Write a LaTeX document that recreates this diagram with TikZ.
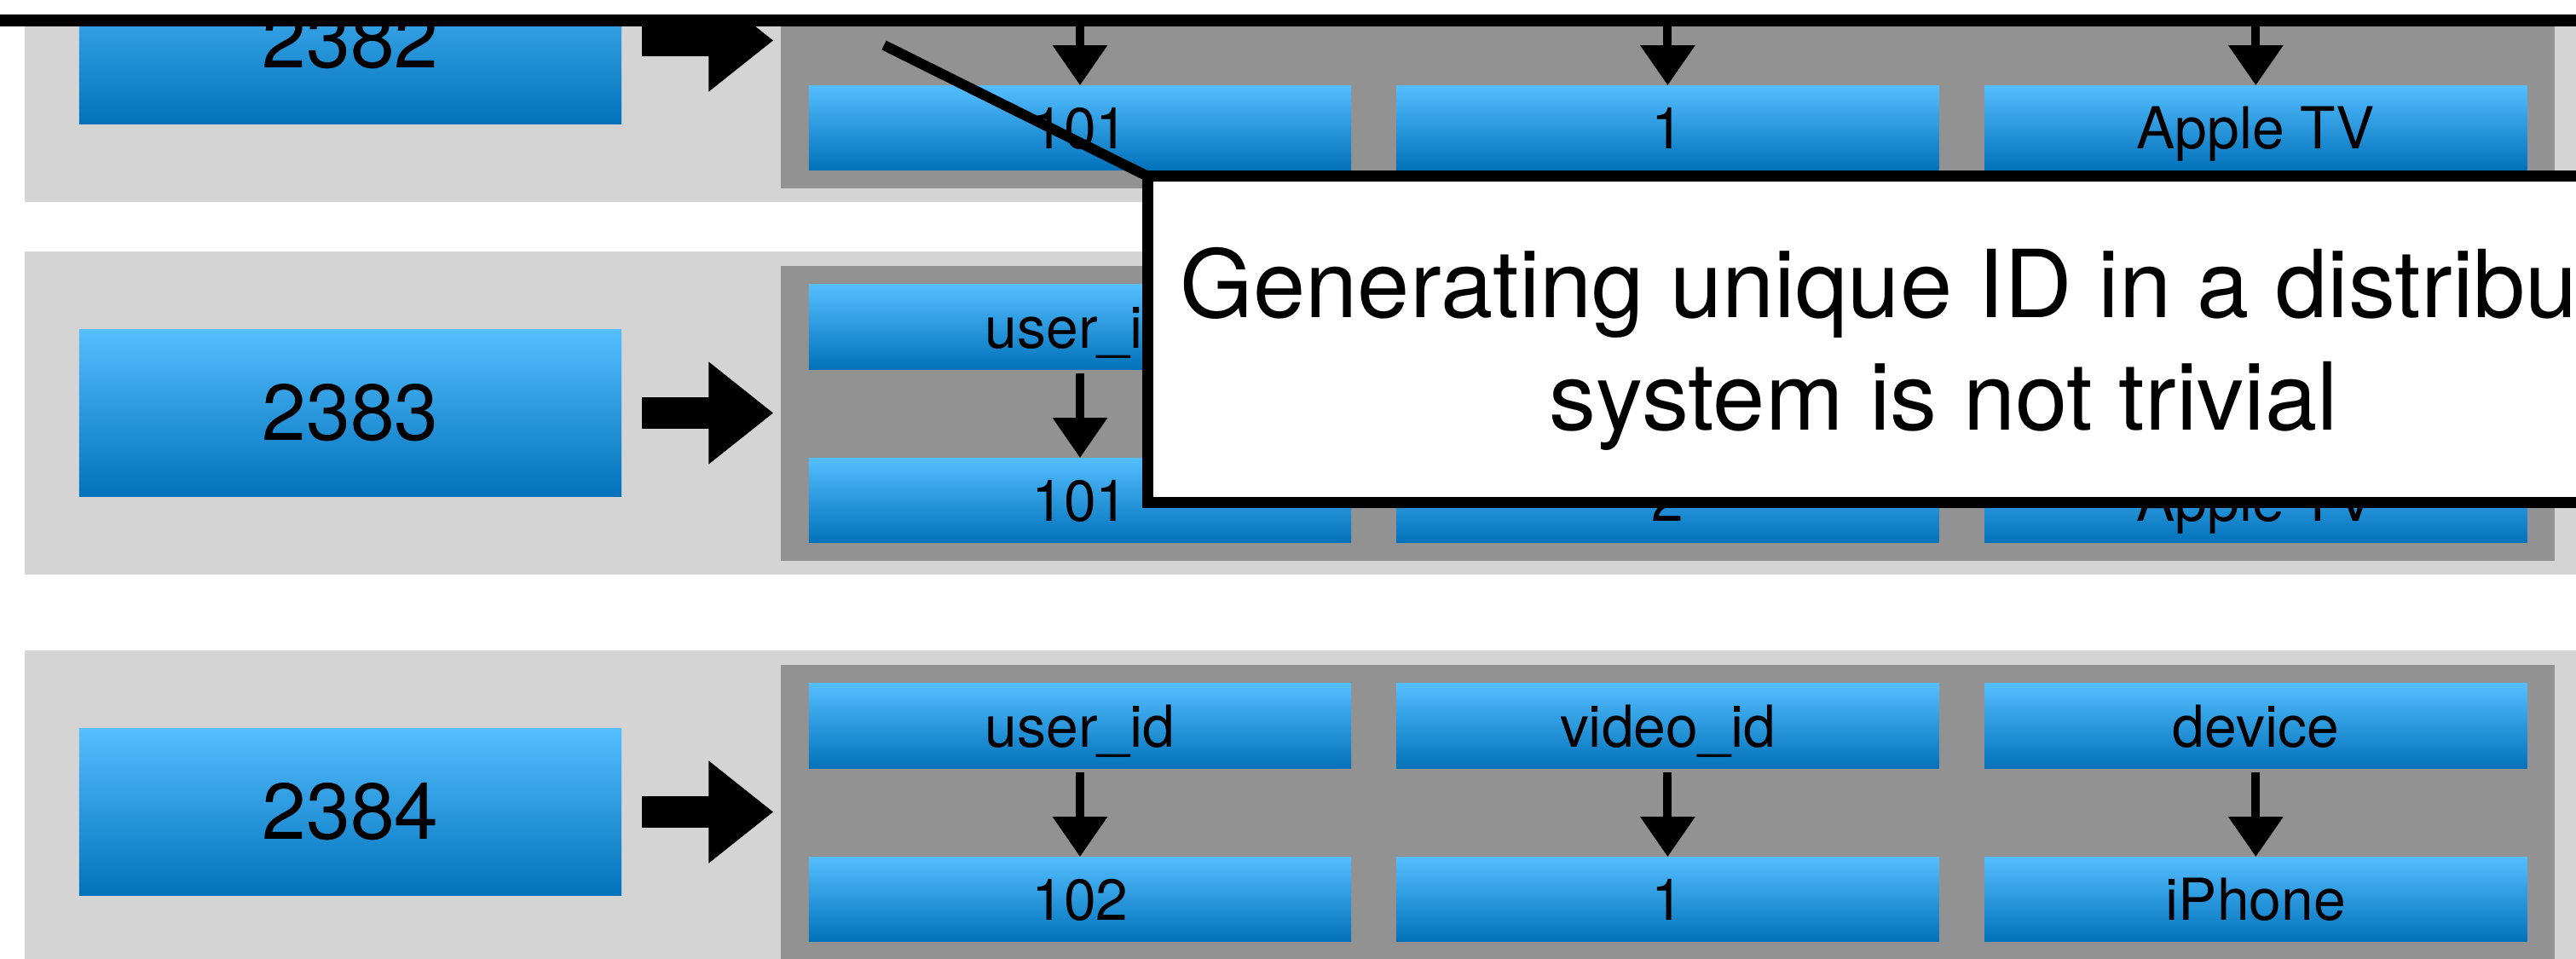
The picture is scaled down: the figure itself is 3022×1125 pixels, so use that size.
\documentclass[tikz,border=0pt]{standalone}
\usepackage{fontspec}
\setmainfont{TeX Gyre Heros}
\usetikzlibrary{positioning, arrows.meta}
\definecolor{panelbg}{RGB}{212,212,212}
\definecolor{recbg}{RGB}{146,146,146}
\definecolor{celltop}{RGB}{84,190,255}
\definecolor{cellbot}{RGB}{2,114,187}

\begin{document}
\begin{tikzpicture}[x=0.01cm, y=-0.01cm,
    panel/.style = {fill=panelbg, minimum width=30.2cm, minimum height=3.79cm, inner sep=0pt, outer sep=0pt},
    rec/.style = {fill=recbg, minimum width=20.79cm, minimum height=3.46cm, inner sep=0pt, outer sep=0pt},
    key/.style = {top color=celltop, bottom color=cellbot, minimum width=6.36cm, minimum height=1.95cm, inner sep=0pt, outer sep=0pt, font=\fontsize{26.5}{32}\selectfont},
    cell/.style = {top color=celltop, bottom color=cellbot, minimum width=6.36cm, minimum height=0.99cm, inner sep=0pt, outer sep=0pt, text height=0.49cm, text depth=0pt, font=\fontsize{19.3}{23}\selectfont},
    link/.style = {draw, line width=0.1cm, -{Triangle[length=0.47cm, width=0.62cm]}, shorten <=0.05cm},
    bigarrow/.style = {draw, line width=0.37cm, -{Triangle[length=0.76cm, width=1.15cm]}, shorten <=0.24cm, shorten >=0.09cm},
    note/.style = {draw, fill=white, line width=0.14cm, inner sep=0pt, outer sep=0pt}]
  \useasboundingbox (0,0) rectangle (3022,1125);
  \clip (0,0) rectangle (3022,1125);
  \fill[white] (0,0) rectangle (3022,1125);
  % one row per record
  \foreach \rw/\cy/\kval/\uval/\vval/\dval in {1/47.5/2382/101/1/Apple TV, 2/484.5/2383/101/2/Apple TV, 3/952.5/2384/102/1/iPhone} {
    \node[panel] (row\rw) at (1540,\cy) {};
    \node[rec] (rec\rw) at (1956.5,{\cy+0.5}) {};
    \node[key] (key\rw) at (411,\cy) {\kval};
    \node[cell] (uid\rw) at (1267,{\cy-101}) {user\_id};
    \node[cell, right=0.53cm of uid\rw] (vid\rw) {video\_id};
    \node[cell, right=0.535cm of vid\rw] (dev\rw) {device};
    \node[cell, below=1.04cm of uid\rw] (uv\rw) {\uval};
    \node[cell, below=1.04cm of vid\rw] (vv\rw) {\vval};
    \node[cell, below=1.04cm of dev\rw] (dv\rw) {\dval};
    \path
      (uid\rw) edge[link] (uv\rw)
      (vid\rw) edge[link] (vv\rw)
      (dev\rw) edge[link] (dv\rw)
      (key\rw) edge[bigarrow] (key\rw -| rec\rw.west);
  }
  \node[note, minimum width=31cm, minimum height=2.5cm] (topnote) at (1511,-101) {};
  \node[note, line width=0.13cm, minimum width=18.66cm, minimum height=3.82cm, align=center,
        text height=2.3cm, text depth=0.18cm, font=\fontsize{31.3}{37.3}\selectfont]
        (callout) at (2280,398) {Generating unique ID in a distributed\\system is not trivial};
  \coordinate (tail) at (1037,53);
  \draw[line width=0.12cm] (tail) -- (callout.north west);
\end{tikzpicture}
\end{document}
